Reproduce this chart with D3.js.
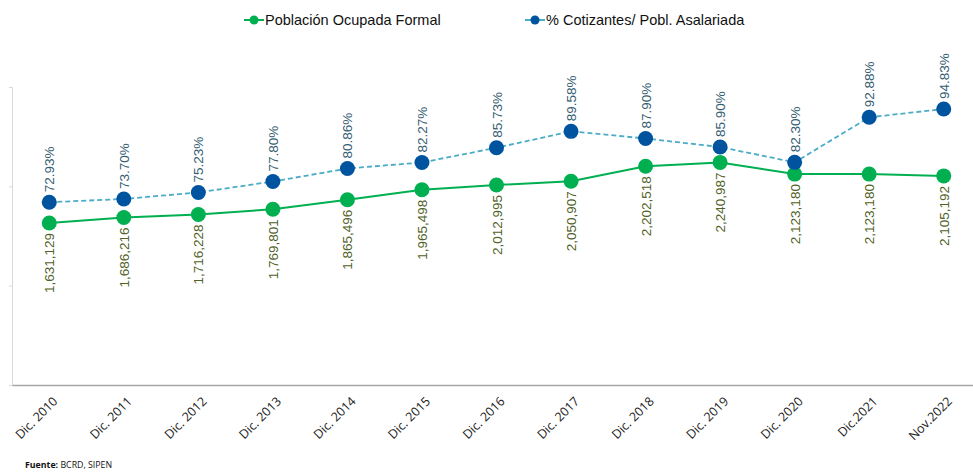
<!DOCTYPE html>
<html>
<head>
<meta charset="utf-8">
<script src="https://cdn.jsdelivr.net/npm/d3@7"></script>
<style>
  body { margin: 0; background: #fff; }
  svg { display: block; }
</style>
</head>
<body>
<svg id="chart1"></svg>
<script>
var periods = ["Dic. 2010", "Dic. 2011", "Dic. 2012", "Dic. 2013", "Dic. 2014", "Dic. 2015", "Dic. 2016",
  "Dic. 2017", "Dic. 2018", "Dic. 2019", "Dic. 2020", "Dic.2021", "Nov.2022"];
var ocupada = [1631129, 1686216, 1716228, 1769801, 1865496, 1965498, 2012995,
  2050907, 2202518, 2240987, 2123180, 2123180, 2105192];
var cotizantes = [72.93, 73.70, 75.23, 77.80, 80.86, 82.27, 85.73,
  89.58, 87.90, 85.90, 82.30, 92.88, 94.83];
var leftTicks = [0, 1000000, 2000000, 3000000];

var width = 973, height = 474;
var svg = d3.select('#chart1')
  .attr('width', width)
  .attr('height', height);

var x = d3.scaleBand()
  .domain(periods)
  .range([12, 981]);
var yL = d3.scaleLinear()
  .domain([0, 3000000])
  .range([385, 87]);
var yR = d3.scaleLinear()
  .domain([30, 100])
  .range([385, 87]);

function cx(d, i) { return x(periods[i]) + x.bandwidth() / 2; }

// axes
svg.append('g')
  .attr('transform', 'translate(12,0)')
  .call(d3.axisLeft(yL).tickValues(leftTicks).tickSize(3).tickFormat(''))
  .call(function (g) {
    g.select('.domain').attr('stroke', '#d9d9d9');
    g.selectAll('.tick line').attr('stroke', '#d9d9d9');
  });

var xAxis = svg.append('g')
  .attr('transform', 'translate(0,385)')
  .call(d3.axisBottom(x).tickSize(0).tickSizeOuter(0));
xAxis.select('.domain').attr('stroke', '#a6a6a6').attr('stroke-width', 1.5);
xAxis.selectAll('text')
  .attr('font-family', '"Open Sans", Arial, sans-serif')
  .attr('font-size', '12.5px')
  .attr('fill', '#222')
  .attr('text-anchor', 'end')
  .attr('dy', 0)
  .attr('transform', 'translate(7,15) rotate(-45)');

// lines
var lineL = d3.line().x(cx).y(function (d) { return yL(d); });
var lineR = d3.line().x(cx).y(function (d) { return yR(d); });

svg.append('path')
  .datum(ocupada)
  .attr('d', lineL)
  .attr('fill', 'none')
  .attr('stroke', '#00b050')
  .attr('stroke-width', 2);

svg.append('path')
  .datum(cotizantes)
  .attr('d', lineR)
  .attr('fill', 'none')
  .attr('stroke', '#4bacc6')
  .attr('stroke-width', 1.8)
  .attr('stroke-dasharray', '5,3');

svg.selectAll('circle.ocu')
  .data(ocupada)
  .enter()
  .append('circle')
  .attr('class', 'ocu')
  .attr('r', 7.5)
  .attr('cx', cx)
  .attr('cy', function (d) { return yL(d); })
  .attr('fill', '#00b050');

svg.selectAll('circle.cot')
  .data(cotizantes)
  .enter()
  .append('circle')
  .attr('class', 'cot')
  .attr('r', 7.5)
  .attr('cx', cx)
  .attr('cy', function (d) { return yR(d); })
  .attr('fill', '#00539f');

// data labels
svg.selectAll('text.lab-ocu')
  .data(ocupada)
  .enter()
  .append('text')
  .attr('class', 'lab-ocu')
  .attr('font-family', 'Arial, "Liberation Sans", sans-serif')
  .attr('font-size', '13.5px')
  .attr('fill', '#4f6228')
  .attr('text-anchor', 'end')
  .attr('transform', function (d, i) {
    return 'translate(' + (cx(d, i) + 5) + ',' + (yL(d) + 10) + ') rotate(-90)';
  })
  .text(function (d) { return d3.format(',')(d); });

svg.selectAll('text.lab-cot')
  .data(cotizantes)
  .enter()
  .append('text')
  .attr('class', 'lab-cot')
  .attr('font-family', 'Arial, "Liberation Sans", sans-serif')
  .attr('font-size', '13.5px')
  .attr('fill', '#345d72')
  .attr('text-anchor', 'start')
  .attr('transform', function (d, i) {
    return 'translate(' + (cx(d, i) + 5) + ',' + (yR(d) - 10) + ') rotate(-90)';
  })
  .text(function (d) { return d.toFixed(2) + '%'; });

// legend
var legend = [
  { name: 'Población Ocupada Formal', line: '#00b050', dot: '#00b050', x: 244 },
  { name: '% Cotizantes/ Pobl. Asalariada', line: '#4bacc6', dot: '#00539f', x: 525 }
];
var lg = svg.selectAll('g.legend')
  .data(legend)
  .enter()
  .append('g')
  .attr('class', 'legend')
  .attr('transform', function (d) { return 'translate(' + d.x + ',20)'; });
lg.append('line')
  .attr('x1', 0).attr('x2', 20)
  .attr('stroke', function (d) { return d.line; })
  .attr('stroke-width', 2);
lg.append('circle')
  .attr('cx', 10)
  .attr('r', 4.5)
  .attr('fill', function (d) { return d.dot; });
lg.append('text')
  .attr('x', 21)
  .attr('dy', '0.35em')
  .attr('font-family', 'Arial, "Liberation Sans", sans-serif')
  .attr('font-size', '14.5px')
  .attr('fill', '#111')
  .text(function (d) { return d.name; });

// source
var src = svg.append('text')
  .attr('x', 25)
  .attr('y', 468)
  .attr('font-family', '"Open Sans", Arial, sans-serif')
  .attr('font-size', '8.8px')
  .attr('fill', '#111');
src.append('tspan').attr('font-weight', 'bold').text('Fuente: ');
src.append('tspan').text('BCRD, SIPEN');
</script>
</body>
</html>
